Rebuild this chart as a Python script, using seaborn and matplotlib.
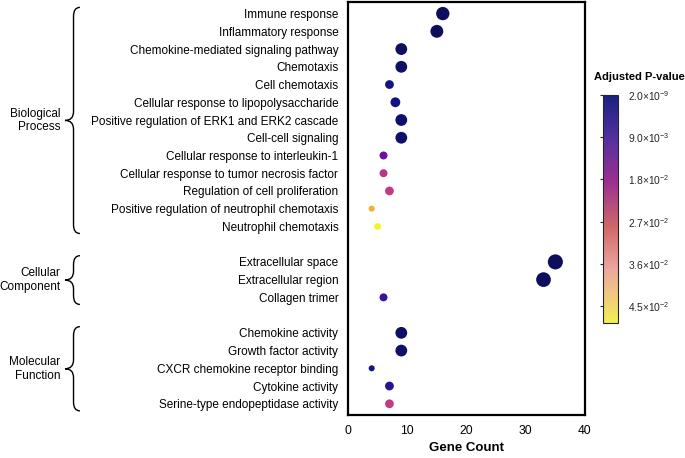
import seaborn as sns
import matplotlib.pyplot as plt
import matplotlib as mpl
import numpy as np
import pandas as pd
from matplotlib.path import Path
from matplotlib.patches import PathPatch
from matplotlib.colors import LinearSegmentedColormap, Normalize

# GO terms, gene counts and adjusted p-values
bp_terms = ['Immune response', 'Inflammatory response', 'Chemokine-mediated signaling pathway',
            'Chemotaxis', 'Cell chemotaxis', 'Cellular response to lipopolysaccharide',
            'Positive regulation of ERK1 and ERK2 cascade', 'Cell-cell signaling',
            'Cellular response to interleukin-1', 'Cellular response to tumor necrosis factor',
            'Regulation of cell proliferation', 'Positive regulation of neutrophil chemotaxis',
            'Neutrophil chemotaxis']
bp_counts = [16, 15, 9, 9, 7, 8, 9, 9, 6, 6, 7, 4, 5]
bp_padj = [1e-6, 1e-5, 3e-4, 5e-4, 2.5e-3, 2e-3, 1e-3, 1e-3, 0.012, 0.021, 0.022, 0.040, 0.048]

cc_terms = ['Extracellular space', 'Extracellular region', 'Collagen trimer']
cc_counts = [35, 33, 6]
cc_padj = [2e-9, 1e-8, 0.007]

mf_terms = ['Chemokine activity', 'Growth factor activity', 'CXCR chemokine receptor binding',
            'Cytokine activity', 'Serine-type endopeptidase activity']
mf_counts = [9, 9, 4, 7, 7]
mf_padj = [5e-4, 8e-4, 3e-3, 5e-3, 0.022]

group_names = ['Biological\nProcess', 'Cellular\nComponent', 'Molecular\nFunction']

cbar_ticks = [2e-9, 9e-3, 1.8e-2, 2.7e-2, 3.6e-2, 4.5e-2]
cbar_labels = ['2.0×10$^{\\mathregular{-9}}$', '9.0×10$^{\\mathregular{-3}}$',
               '1.8×10$^{\\mathregular{-2}}$', '2.7×10$^{\\mathregular{-2}}$',
               '3.6×10$^{\\mathregular{-2}}$', '4.5×10$^{\\mathregular{-2}}$']

# build one table, leaving an empty row between groups
rows = []
group_spans = []
pos = 0
for terms, counts, padj in [(bp_terms, bp_counts, bp_padj),
                            (cc_terms, cc_counts, cc_padj),
                            (mf_terms, mf_counts, mf_padj)]:
    start = pos
    for t, c, p in zip(terms, counts, padj):
        rows.append({'term': t, 'count': c, 'padj': p, 'row': pos})
        pos += 1
    group_spans.append((start, pos - 1))
    pos += 1
df = pd.DataFrame(rows)
gap_rows = [s[1] + 1 for s in group_spans[:-1]]

sns.set_style('white')
plt.rcParams['font.family'] = ['Liberation Sans', 'DejaVu Sans']
plt.rcParams['text.color'] = 'black'
plt.rcParams['axes.labelcolor'] = 'black'
plt.rcParams['mathtext.fontset'] = 'custom'
plt.rcParams['mathtext.rm'] = 'Liberation Sans'

cmap = LinearSegmentedColormap.from_list('padj', [
    (0.0, '#0e0e5c'), (0.06, '#14148e'), (0.15, '#3c12a0'), (0.25, '#6e10a4'),
    (0.45, '#c03a84'), (0.62, '#e06666'), (0.8, '#f7a23a'), (1.0, '#f0f921')])
# the legend bar in the original is a paler version of the same ramp
cmap_bar = LinearSegmentedColormap.from_list('padj_bar', [
    (0.0, '#1a2080'), (0.18, '#5030a0'), (0.38, '#9a3090'), (0.58, '#d06868'),
    (0.76, '#eca4a0'), (0.88, '#f0c880'), (1.0, '#f2f050')])
vmin, vmax = 0, 0.0485

dot_sizes = {4: 19, 5: 24, 6: 33, 7: 40, 8: 50, 9: 72, 15: 86, 16: 92, 33: 112, 35: 118}

fig = plt.figure(figsize=(6.85, 4.58), dpi=100)
ax = fig.add_axes([0.508, 0.094, 0.346, 0.9015])

sns.scatterplot(data=df, x='count', y='row', hue='padj', palette=cmap,
                hue_norm=(vmin, vmax), size='count', sizes=dot_sizes,
                legend=False, edgecolor='none', ax=ax, zorder=3)

ax.set_xlim(0, 40)
ax.set_ylim(df['row'].max() + 0.63, -0.65)
ax.set_xticks([0, 10, 20, 30, 40])
ax.set_yticks(df['row'])
ax.set_yticklabels(df['term'])
ax.set_yticks(gap_rows, minor=True)
ax.set_xlabel('Gene Count', fontsize=9.5, fontweight='bold', labelpad=4)
ax.set_ylabel('')
for side in ['left', 'right', 'top', 'bottom']:
    ax.spines[side].set_linewidth(1.6)
    ax.spines[side].set_color('black')
ax.tick_params(axis='both', which='major', direction='out', length=5, width=1.6,
               labelsize=8.5, colors='black', pad=2)
ax.tick_params(axis='y', which='minor', direction='out', length=2, width=1)
ax.tick_params(axis='x', which='major', labelsize=8.7)

# curly braces and group labels left of the tick labels
trans = ax.get_yaxis_transform()
x_end, x_bar, x_tip = -1.131, -1.158, -1.194
for (a, b), name in zip(group_spans, group_names):
    y0, y1 = a - 0.35, b + 0.4
    ym = (y0 + y1) / 2
    r = 0.5
    verts = [(x_end, y0), (x_bar, y0), (x_bar, y0 + r),
             (x_bar, ym - r),
             (x_bar, ym), (x_tip, ym),
             (x_bar, ym), (x_bar, ym + r),
             (x_bar, y1 - r),
             (x_bar, y1), (x_end, y1)]
    codes = [Path.MOVETO, Path.CURVE3, Path.CURVE3,
             Path.LINETO,
             Path.CURVE3, Path.CURVE3,
             Path.CURVE3, Path.CURVE3,
             Path.LINETO,
             Path.CURVE3, Path.CURVE3]
    ax.add_patch(PathPatch(Path(verts, codes), transform=trans, fill=False,
                           lw=1.0, color='black', clip_on=False))
    ax.text(x_tip - 0.02, ym, name, transform=trans, ha='right', va='center',
            fontsize=8.5, linespacing=1.2)

# colour bar
cax = fig.add_axes([0.880, 0.295, 0.022, 0.498])
sm = mpl.cm.ScalarMappable(norm=Normalize(vmin, vmax), cmap=cmap_bar)
cb = fig.colorbar(sm, cax=cax)
cb.set_ticks(cbar_ticks)
cb.set_ticklabels(cbar_labels)
cb.outline.set_linewidth(0.8)
cax.set_ylim(vmax, vmin)
cax.yaxis.set_ticks_position('left')
cax.tick_params(left=True, right=False, labelleft=False, labelright=True,
                direction='inout', length=4, width=0.8, labelsize=7.4, pad=5)
fig.text(0.934, 0.832, 'Adjusted P-value', ha='center', va='center',
         fontsize=8, fontweight='bold')

fig.savefig('out.png', dpi=100)
